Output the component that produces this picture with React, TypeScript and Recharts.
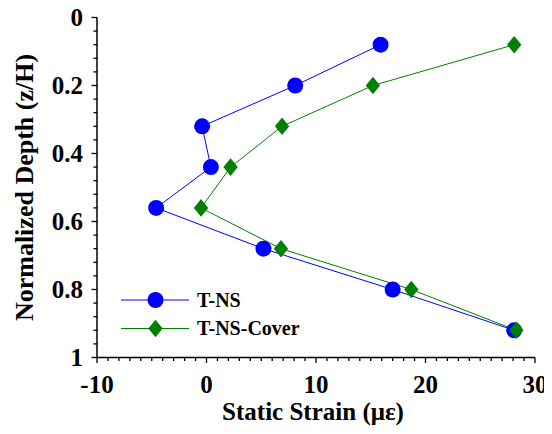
import { LineChart, Line, XAxis, YAxis, Legend } from "recharts";

// depth (z/H) of each gauge, top to bottom
const depth = [0.08, 0.2, 0.32, 0.44, 0.56, 0.68, 0.8, 0.92];
// static strain readings (με)
const tnsStrain = [15.9, 8.1, -0.4, 0.4, -4.6, 5.2, 17.0, 28.1];
const coverStrain = [28.1, 15.2, 6.9, 2.2, -0.5, 6.8, 18.7, 28.3];

const xMajorTicks = [-10, 0, 10, 20, 30];
const yMajorTicks = [0, 0.2, 0.4, 0.6, 0.8, 1];
const yTickLabels = ["0", "0.2", "0.4", "0.6", "0.8", "1"];

// minor ticks: every 1 on x, every 0.04 on y
const xTicks = Array.from({ length: 41 }, (_, i) => i - 10);
const yTicks = Array.from({ length: 26 }, (_, i) => Math.round(i * 4) / 100);

const tnsData = depth.map((d, i) => ({ x: tnsStrain[i], y: d }));
const coverData = depth.map((d, i) => ({ x: coverStrain[i], y: d }));

const FONT = "Liberation Serif";
const BLUE = "#0000ff";
const GREEN = "#008000";

const yMajorIndex = (v: number) => yMajorTicks.findIndex((t) => Math.abs(t - v) < 1e-6);

// draws the tick mark (longer on majors) and the label; axis tickSize/margin are 0
function makeTick(side: "bottom" | "top" | "left" | "right") {
  return (props: any) => {
    const x = Number(props.x);
    const y = Number(props.y);
    const v = props.payload.value;
    let major = false;
    let label: string | null = null;
    if (side === "bottom" || side === "top") {
      major = xMajorTicks.includes(v);
      if (side === "bottom" && major) label = String(v);
    } else {
      const idx = yMajorIndex(v);
      major = idx >= 0;
      if (side === "left" && major) label = yTickLabels[idx];
    }
    const len = major ? 5.5 : 3.5;
    let x2 = x;
    let y2 = y;
    if (side === "bottom") y2 = y + len;
    else if (side === "top") y2 = y - len;
    else if (side === "left") x2 = x - len;
    else x2 = x + len;
    return (
      <g>
        <line x1={x} y1={y} x2={x2} y2={y2} stroke="#000" strokeWidth={1.3} />
        {label !== null && side === "bottom" && (
          <text x={x} y={y + 35} textAnchor="middle" fontFamily={FONT} fontWeight={700} fontSize={25} fill="#000">
            {label}
          </text>
        )}
        {label !== null && side === "left" && (
          <text x={x - 14} y={y} dy="0.34em" textAnchor="end" fontFamily={FONT} fontWeight={700} fontSize={25} fill="#000">
            {label}
          </text>
        )}
      </g>
    );
  };
}

const renderLegend = (props: any) => {
  const { payload } = props;
  return (
    <svg width={210} height={64}>
      {(payload || []).map((entry: any, i: number) => {
        const cy = 15 + i * 28.5;
        const cx = 34.5;
        return (
          <g key={entry.value}>
            <line x1={0} x2={68} y1={cy} y2={cy} stroke={entry.color} strokeWidth={1} />
            {entry.value === "T-NS" ? (
              <circle cx={cx} cy={cy} r={8} fill={entry.color} />
            ) : (
              <polygon points={`${cx},${cy - 8.8} ${cx + 7.2},${cy} ${cx},${cy + 8.8} ${cx - 7.2},${cy}`} fill={entry.color} />
            )}
            <text x={76} y={cy + 6.5} fontFamily={FONT} fontWeight={700} fontSize={20} fill="#000">
              {entry.value}
            </text>
          </g>
        );
      })}
    </svg>
  );
};

const axisLine = { stroke: "#000", strokeWidth: 1.5 };

export default function App() {
  return (
    <LineChart width={544} height={420} margin={{ top: 9.5, right: 17, bottom: 0, left: 0 }}>
      <XAxis
        xAxisId="b"
        type="number"
        dataKey="x"
        domain={[-10, 30]}
        allowDataOverflow
        ticks={xTicks}
        interval={0}
        orientation="bottom"
        height={70.5}
        tickSize={0}
        tickMargin={0}
        tickLine={false}
        axisLine={axisLine}
        tick={makeTick("bottom")}
        label={{
          content: (p: any) => {
            const vb = p.viewBox;
            return (
              <text x={vb.x + vb.width / 2 - 3} y={vb.y + 62.5} textAnchor="middle" fontFamily={FONT} fontWeight={700} fontSize={25} fill="#000">
                Static Strain (με)
              </text>
            );
          },
        }}
      />
      <XAxis
        xAxisId="t"
        type="number"
        dataKey="x"
        domain={[-10, 30]}
        allowDataOverflow
        ticks={xTicks}
        interval={0}
        orientation="top"
        height={0}
        tickSize={0}
        tickMargin={0}
        tickLine={false}
        axisLine={axisLine}
        tick={makeTick("top")}
      />
      <YAxis
        yAxisId="l"
        type="number"
        domain={[0, 1]}
        reversed
        allowDataOverflow
        ticks={yTicks}
        interval={0}
        orientation="left"
        width={89}
        tickSize={0}
        tickMargin={0}
        tickLine={false}
        axisLine={axisLine}
        tick={makeTick("left")}
        label={{
          content: (p: any) => {
            const vb = p.viewBox;
            const cy = vb.y + vb.height / 2;
            return (
              <text x={25} y={cy} transform={`rotate(-90, 25, ${cy})`} textAnchor="middle" fontFamily={FONT} fontWeight={700} fontSize={26} fill="#000">
                Normalized Depth (z/H)
              </text>
            );
          },
        }}
      />
      <YAxis
        yAxisId="r"
        type="number"
        domain={[0, 1]}
        reversed
        allowDataOverflow
        ticks={yTicks}
        interval={0}
        orientation="right"
        width={0}
        tickSize={0}
        tickMargin={0}
        tickLine={false}
        axisLine={axisLine}
        tick={makeTick("right")}
      />
      <Legend
        layout="vertical"
        align="center"
        verticalAlign="middle"
        content={renderLegend}
        wrapperStyle={{ position: "absolute", left: 113, top: 277, width: 210, height: 64 }}
      />
      <Line
        xAxisId="b"
        yAxisId="l"
        name="T-NS"
        data={tnsData}
        dataKey="y"
        stroke={BLUE}
        strokeWidth={1}
        isAnimationActive={false}
        dot={(p: any) => <circle key={`a${p.index}`} cx={p.cx} cy={p.cy} r={8} fill={BLUE} />}
        activeDot={false}
      />
      <Line
        xAxisId="b"
        yAxisId="l"
        name="T-NS-Cover"
        data={coverData}
        dataKey="y"
        stroke={GREEN}
        strokeWidth={1}
        isAnimationActive={false}
        dot={(p: any) => (
          <polygon
            key={`b${p.index}`}
            points={`${p.cx},${p.cy - 8.8} ${p.cx + 7.2},${p.cy} ${p.cx},${p.cy + 8.8} ${p.cx - 7.2},${p.cy}`}
            fill={GREEN}
          />
        )}
        activeDot={false}
      />
    </LineChart>
  );
}
